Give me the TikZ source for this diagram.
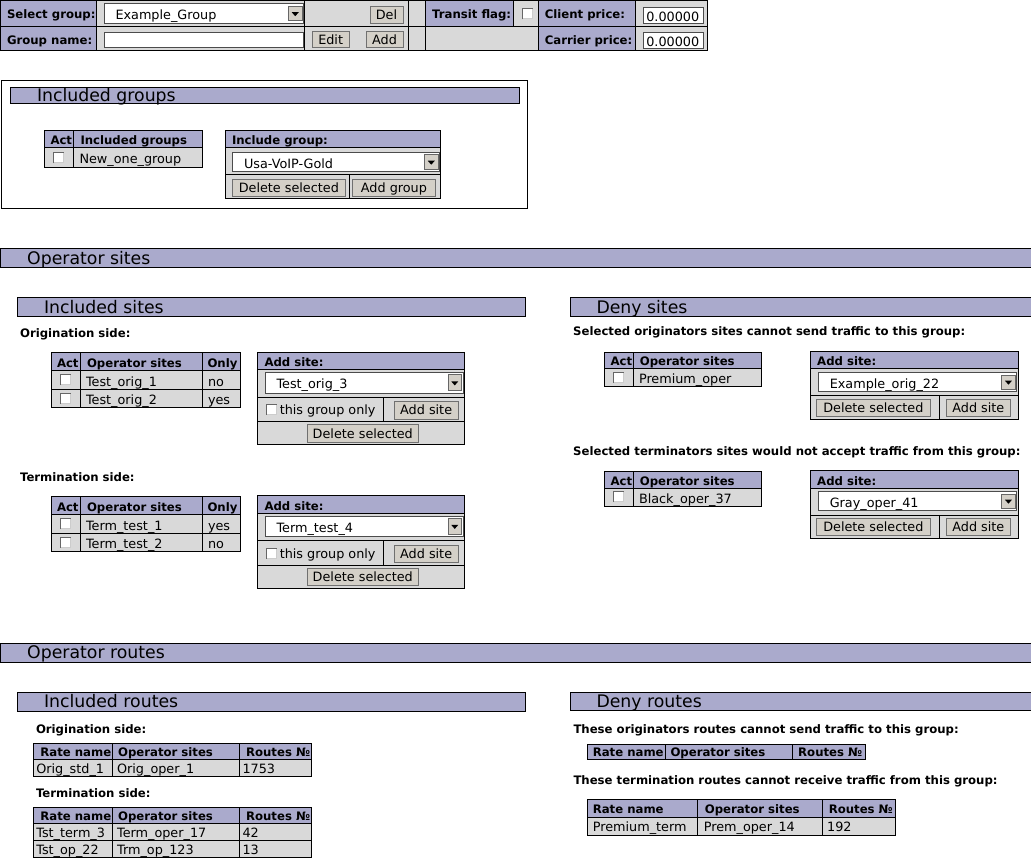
\documentclass[tikz,border=0pt]{standalone}
\usepackage{fontspec}
\setmainfont{DejaVu Sans}

\definecolor{lav}{RGB}{170,170,204}
\definecolor{cellgray}{RGB}{217,217,217}
\definecolor{btngray}{RGB}{212,208,200}
\definecolor{btnline}{RGB}{112,112,112}

% button: name, x1, y1, x2, y2, text
\newcommand{\btn}[6]{%
  \draw[btnbox] (#2,#3) rectangle (#4,#5);
  \node[btntxt] (#1) at ({(#2+#4)/2},{(#3+#5)/2+4.5}) {#6};}
% drop down list
\newcommand{\ddbox}[6]{%
  \draw[fill=white,draw=black!70] (#2,#3) rectangle (#4,#5);
  \draw[fill=btngray,draw=black!60] (#4-15,#3+2.5) rectangle (#4-1.5,#5-2.5);
  \fill ({#4-11.75},{(#3+#5)/2-1.5}) -- ++(7,0) -- ++(-3.5,4) -- cycle;
  \node[txt] (#1) at (#2+11,{(#3+#5)/2+6}) {#6};}
% text field
\newcommand{\txtfield}[6]{%
  \draw[fill=white,draw=black!70] (#2,#3) rectangle (#4,#5);
  \node[txt] (#1) at (#2+2.5,{(#3+#5)/2+5.5}) {#6};}
% check box
\newcommand{\chkbox}[2]{%
  \fill[white] (#1,#2) rectangle ++(11,11);
  \draw[black!60] (#1+0.5,#2+11) -- (#1+0.5,#2+0.5) -- (#1+11,#2+0.5);
  \draw[black!20] (#1+1,#2+10.5) -- (#1+10.5,#2+10.5) -- (#1+10.5,#2+1);}

% included sites block: prefix, side, site 1, only 1, site 2, only 2, selected
\newcommand{\siteblock}[7]{%
  \node[lbl] (#1side) at (19.6,338) {#2};
  \draw[hdr] (51,353) rectangle (240,371);
  \draw[cell] (51,371) rectangle (240,408);
  \draw (51,389.5) -- (240,389.5) (80,353) -- (80,408) (202,353) -- (202,408);
  \node[lbl] (#1act) at (56.5,367.5) {Act};
  \node[lbl] (#1hops) at (86.5,367.5) {Operator sites};
  \node[lbl] (#1honly) at (207,367.5) {Only};
  \chkbox{60}{374.5}
  \chkbox{60}{393}
  \node[txt] (#1s1) at (85.5,386.5) {#3};
  \node[txt] (#1o1) at (207.5,386.5) {#4};
  \node[txt] (#1s2) at (85.5,405) {#5};
  \node[txt] (#1o2) at (207.5,405) {#6};
  \draw[cell] (257.3,352.3) rectangle (464.3,445);
  \draw[hdr] (257.3,352.3) rectangle (464.3,370);
  \node[lbl] (#1form) at (264,366.5) {Add site:};
  \ddbox{#1sel}{265}{372.5}{463}{393.3}{#7}
  \draw (257.3,397.3) -- (464.3,397.3) (257.3,421.7) -- (464.3,421.7)
    (383.3,397.3) -- (383.3,421.7);
  \chkbox{266}{404}
  \node[txt] (#1only) at (279.3,415) {this group only};
  \btn{#1add}{394}{401.7}{458.3}{419.3}{Add site}
  \btn{#1del}{307.3}{425}{418.3}{442.3}{Delete selected}}

% deny sites block: prefix, heading, site, selected
\newcommand{\denyblock}[4]{%
  \node[lbl] (#1head) at (572.7,336) {#2};
  \draw[hdr] (604.3,352.3) rectangle (761.7,369);
  \draw[cell] (604.3,369) rectangle (761.7,387);
  \draw (633.3,352.3) -- (633.3,387);
  \node[lbl] (#1act) at (610,366) {Act};
  \node[lbl] (#1hops) at (639.3,366) {Operator sites};
  \chkbox{612.5}{372}
  \node[txt] (#1s1) at (638.5,384) {#3};
  \draw[cell] (810.7,351.7) rectangle (1018.3,419.3);
  \draw[hdr] (810.7,351.7) rectangle (1018.3,369);
  \node[lbl] (#1form) at (816.7,366) {Add site:};
  \ddbox{#1sel}{818.3}{372.7}{1016.7}{391.7}{#4}
  \draw (810.7,396) -- (1018.3,396) (939,396) -- (939,419.3);
  \btn{#1del}{816.7}{399.3}{930}{416.7}{Delete selected}
  \btn{#1add}{946}{399.3}{1010.7}{416.7}{Add site}}

\begin{document}
\begin{tikzpicture}[x=1pt,y=-1pt,line width=1pt,
  hdr/.style={fill=lav,draw=black},
  cell/.style={fill=cellgray,draw=black},
  btnbox/.style={fill=btngray,draw=btnline},
  txt/.style={anchor=base west,inner sep=0pt,font=\fontsize{12.8}{15}\selectfont},
  lbl/.style={anchor=base west,inner sep=0pt,font=\bfseries\fontsize{11.7}{14}\selectfont},
  ttl/.style={anchor=base west,inner sep=0pt,font=\fontsize{17.3}{20}\selectfont},
  btntxt/.style={anchor=base,inner sep=0pt,font=\fontsize{12.8}{15}\selectfont}]

\fill[white] (0,0) rectangle (1031,866);
\useasboundingbox (0,0) rectangle (1031,866);

% group selector
\draw[hdr] (0.5,0.5) rectangle (96.5,26.5);
\draw[hdr] (0.5,26.5) rectangle (96.5,51);
\draw[cell] (96.5,0.5) rectangle (425,51);
\draw (96.5,26.5) -- (425,26.5);
\draw (304.5,0.5) -- (304.5,51) (408.5,0.5) -- (408.5,51);
\draw[hdr] (425,0.5) rectangle (513.5,26.5);
\draw[cell] (513.5,0.5) rectangle (538.5,26.5);
\draw[cell] (425,26.5) rectangle (538.5,51);
\draw[hdr] (538.5,0.5) rectangle (635,26.5);
\draw[hdr] (538.5,26.5) rectangle (635,51);
\draw[cell] (635,0.5) rectangle (707,26.5);
\draw[cell] (635,26.5) rectangle (707,51);

\node[lbl] (selg) at (6.5,19) {Select group:};
\node[lbl] (gname) at (6.5,44.3) {Group name:};
\ddbox{selval}{104}{4}{303.5}{23.5}{Example\_Group}
\btn{del}{370}{6.5}{403}{23.5}{Del}
\txtfield{gnameval}{104}{32.3}{303}{47.3}{}
\btn{edit}{312.3}{31.7}{349}{48}{Edit}
\btn{add}{366}{31.7}{403}{48}{Add}
\node[lbl] (transit) at (431.7,19) {Transit flag:};
\chkbox{522}{8.5}
\node[lbl] (cprice) at (544.3,19) {Client price:};
\node[lbl] (rprice) at (544.3,44.3) {Carrier price:};
\txtfield{cpval}{643.3}{7.7}{703}{24}{0.00000}
\txtfield{rpval}{643.3}{33}{703}{49}{0.00000}

% included groups
\draw (1,81) rectangle (527,208.5);
\draw[hdr] (10,87.5) rectangle (519,104);
\node[ttl] (incg) at (36.5,101.5) {Included groups};
\draw[hdr] (44,131) rectangle (202,148);
\draw[cell] (44,148) rectangle (202,167.5);
\draw (73.5,131) -- (73.5,167.5);
\node[lbl] (igact) at (50,145) {Act};
\node[lbl] (ighead) at (80,145) {Included groups};
\chkbox{52.5}{152.5}
\node[txt] (ig1) at (79,163.5) {New\_one\_group};
\draw[cell] (225.5,131) rectangle (440.5,199);
\draw[hdr] (225.5,131) rectangle (440.5,148);
\node[lbl] (igform) at (231.5,145) {Include group:};
\ddbox{igsel}{232.5}{152.5}{439.5}{172}{Usa-VoIP-Gold}
\draw (225.5,174.5) -- (440.5,174.5) (349.3,174.5) -- (349.3,199);
\btn{igdel}{232.7}{179.5}{345}{196.5}{Delete selected}
\btn{igadd}{352.7}{179.5}{435.2}{196.5}{Add group}

% operator sites
\draw[hdr] (0.5,249) rectangle (1032,268);
\node[ttl] (ops) at (26.7,264.5) {Operator sites};
\draw[hdr] (17,298) rectangle (525,317);
\node[ttl] (incs) at (43.5,313.5) {Included sites};
\draw[hdr] (570.5,298) rectangle (1032,316.5);
\node[ttl] (denys) at (596,313.5) {Deny sites};

\siteblock{o}{Origination side:}{Test\_orig\_1}{no}{Test\_orig\_2}{yes}{Test\_orig\_3}
\begin{scope}[shift={(0,143.5)}]
\siteblock{t}{Termination side:}{Term\_test\_1}{yes}{Term\_test\_2}{no}{Term\_test\_4}
\end{scope}

\denyblock{do}{Selected originators sites cannot send traffic to this group:}{Premium\_oper}{Example\_orig\_22}
\begin{scope}[shift={(0,119)}]
\denyblock{dt}{Selected terminators sites would not accept traffic from this group:}{Black\_oper\_37}{Gray\_oper\_41}
\end{scope}

% operator routes
\draw[hdr] (0.5,643) rectangle (1032,662);
\node[ttl] (opr) at (26.7,658.5) {Operator routes};
\draw[hdr] (17,692) rectangle (525,711);
\node[ttl] (incr) at (43.5,707.5) {Included routes};
\draw[hdr] (570.5,692) rectangle (1032,710.5);
\node[ttl] (denyr) at (596,707.5) {Deny routes};

% included routes
\node[lbl] (rside1) at (35.5,733) {Origination side:};
\draw[hdr] (33.5,743.5) rectangle (311.5,759.5);
\draw[cell] (33.5,759.5) rectangle (311.5,776.5);
\draw (112.2,743.5) -- (112.2,776.5) (239.2,743.5) -- (239.2,776.5);
\node[lbl] (r1h1) at (39.9,756.5) {Rate name};
\node[lbl] (r1h2) at (117.6,756.5) {Operator sites};
\node[lbl] (r1h3) at (245.6,756.5) {Routes №};
\node[txt] (r1a) at (35.8,773) {Orig\_std\_1};
\node[txt] (r1b) at (116.6,773) {Orig\_oper\_1};
\node[txt] (r1c) at (242,773) {1753};

\node[lbl] (rside2) at (35.5,797) {Termination side:};
\draw[hdr] (33.5,807) rectangle (311.5,823.5);
\draw[cell] (33.5,823.5) rectangle (311.5,857.5);
\draw (33.5,840.5) -- (311.5,840.5);
\draw (112.2,807) -- (112.2,857.5) (239.2,807) -- (239.2,857.5);
\node[lbl] (r2h1) at (39.9,820.5) {Rate name};
\node[lbl] (r2h2) at (117.6,820.5) {Operator sites};
\node[lbl] (r2h3) at (245.6,820.5) {Routes №};
\node[txt] (r2a) at (35.8,837) {Tst\_term\_3};
\node[txt] (r2b) at (116.6,837) {Term\_oper\_17};
\node[txt] (r2c) at (242,837) {42};
\node[txt] (r3a) at (35.8,854) {Tst\_op\_22};
\node[txt] (r3b) at (116.6,854) {Trm\_op\_123};
\node[txt] (r3c) at (242,854) {13};

% deny routes
\node[lbl] (dr1head) at (573,733) {These originators routes cannot send traffic to this group:};
\draw[hdr] (587.7,744) rectangle (865,759.5);
\draw (665,744) -- (665,759.5) (792.3,744) -- (792.3,759.5);
\node[lbl] (d1h1) at (592.3,756.5) {Rate name};
\node[lbl] (d1h2) at (670,756.5) {Operator sites};
\node[lbl] (d1h3) at (797.7,756.5) {Routes №};

\node[lbl] (dr2head) at (573,784) {These termination routes cannot receive traffic from this group:};
\draw[hdr] (587.7,799.5) rectangle (895,817);
\draw[cell] (587.7,817) rectangle (895,835);
\draw (697.7,799.5) -- (697.7,835) (822.3,799.5) -- (822.3,835);
\node[lbl] (d2h1) at (592.3,813.5) {Rate name};
\node[lbl] (d2h2) at (704.3,813.5) {Operator sites};
\node[lbl] (d2h3) at (828.3,813.5) {Routes №};
\node[txt] (d2a) at (592.3,831.5) {Premium\_term};
\node[txt] (d2b) at (703.3,831.5) {Prem\_oper\_14};
\node[txt] (d2c) at (826.7,831.5) {192};

\end{tikzpicture}
\end{document}
